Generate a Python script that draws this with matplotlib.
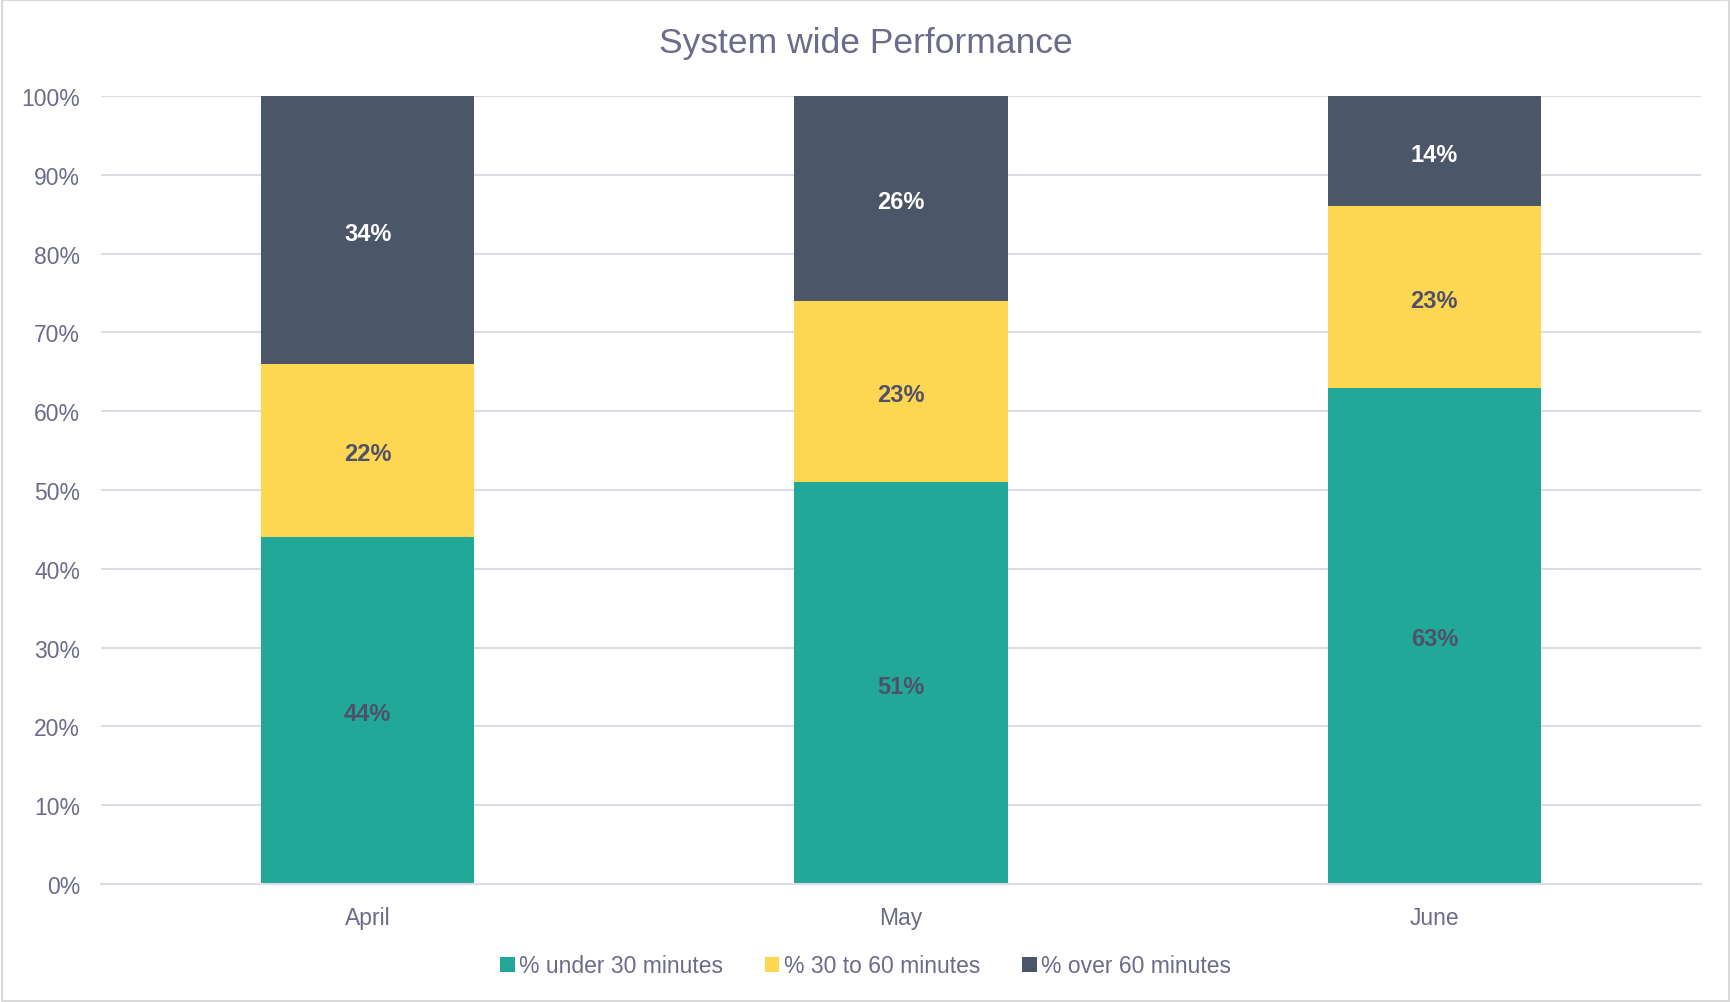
import numpy as np
import matplotlib
matplotlib.use("Agg")
import matplotlib.pyplot as plt
from matplotlib.patches import Rectangle
from matplotlib.ticker import PercentFormatter

# data
months = ["April", "May", "June"]
under_30 = [44, 51, 63]
from_30_to_60 = [22, 23, 23]
over_60 = [34, 26, 14]
series_names = ["% under 30 minutes", "% 30 to 60 minutes", "% over 60 minutes"]

C_TEAL, C_YELLOW, C_DARK = "#21A898", "#FDD752", "#4B5768"
C_TEXT, C_LABEL, C_GRID = "#6B6B8A", "#50506A", "#DCDCE4"

plt.rcParams["font.family"] = ["Liberation Sans", "DejaVu Sans"]

fig = plt.figure(figsize=(17.31, 10.03), dpi=100)
ax = fig.add_axes([101 / 1731, 1 - 885 / 1003, 1600 / 1731, 788 / 1003])

x = np.arange(len(months))
width = 0.4
series = [under_30, from_30_to_60, over_60]
colors = [C_TEAL, C_YELLOW, C_DARK]
label_colors = [C_LABEL, C_LABEL, "white"]
bottom = np.zeros(len(months))
for vals, col, lc, name in zip(series, colors, label_colors, series_names):
    vals = np.array(vals, dtype=float)
    ax.bar(x, vals, width, bottom=bottom, color=col, label=name, zorder=2)
    for xi, b, v in zip(x, bottom, vals):
        ax.text(xi, b + v / 2 - 0.4, f"{v:.0f}%", ha="center", va="center",
                fontsize=17, fontweight="bold", color=lc, zorder=3)
    bottom += vals

ax.set_xlim(-0.5, 2.5)
ax.set_ylim(0, 100)
ax.set_yticks(np.arange(0, 101, 10))
ax.yaxis.set_major_formatter(PercentFormatter(decimals=0))
ax.set_xticks(x)
ax.set_xticklabels(months)
ax.tick_params(axis="both", length=0, labelsize=16.5, colors=C_TEXT)
ax.tick_params(axis="y", pad=15)
ax.tick_params(axis="x", pad=16)
ax.grid(axis="y", color=C_GRID, lw=1.5, zorder=0)
for s in ["top", "right", "left"]:
    ax.spines[s].set_visible(False)
ax.spines["bottom"].set_color(C_GRID)
ax.spines["bottom"].set_linewidth(1.5)

fig.text(0.5, 1 - 44 / 1003, "System wide Performance", ha="center", va="center",
         fontsize=25.5, color=C_TEXT)

fig.legend(loc="center", bbox_to_anchor=(0.5, 1 - 967 / 1003), ncol=3, frameon=False,
           fontsize=16.5, handlelength=0.65, handleheight=0.65, handletextpad=0.2,
           columnspacing=1.8, labelcolor=C_TEXT)

fig.patches.append(Rectangle((0.001, 0.001), 0.998, 0.998, transform=fig.transFigure,
                             fill=False, edgecolor="#D9D9D9", lw=1.5))

fig.savefig("out.png", dpi=100, facecolor="white")
